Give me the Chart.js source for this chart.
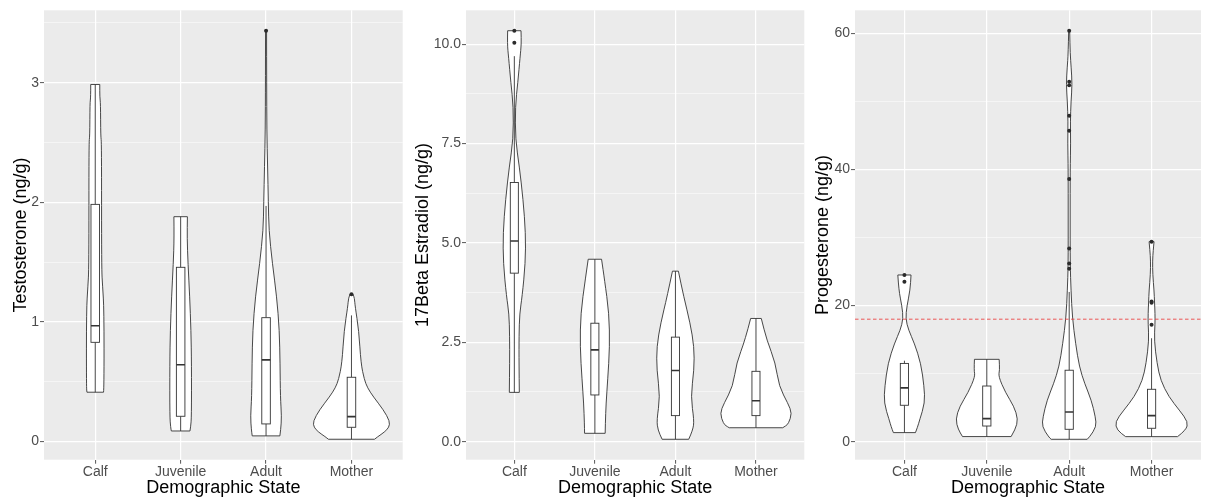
<!DOCTYPE html>
<html>
<head>
<meta charset="utf-8">
<script src="https://cdn.jsdelivr.net/npm/chart.js@4.4.1/dist/chart.umd.min.js"></script>
<style>
  body { margin: 0; background: #fff; }
  .panel { position: absolute; top: 0; }
</style>
</head>
<body>
<canvas id="testo" class="panel" width="410" height="500" style="left:0"></canvas>
<canvas id="estradiol" class="panel" width="400" height="500" style="left:410px"></canvas>
<canvas id="progest" class="panel" width="395" height="500" style="left:810px"></canvas>
<script>
const categories = ["Calf", "Juvenile", "Adult", "Mother"];

// violin profiles: [value, half width in category units], top to bottom
const testoViolins = [
  [[2.985, 0.053], [2.88, 0.053], [2.83, 0.062], [2.55, 0.064], [2.5, 0.074], [1.45, 0.074], [1.3, 0.086], [1.1, 0.103], [0.45, 0.103], [0.413, 0.097]],
  [[1.88, 0.079], [1.7, 0.076], [1.49, 0.086], [1.21, 0.106], [0.93, 0.121], [0.65, 0.127], [0.21, 0.127], [0.12, 0.117], [0.089, 0.109]],
  [[3.434, 0.006], [3.0, 0.007], [2.6, 0.009], [2.3, 0.018], [2.0, 0.027], [1.77, 0.033], [1.49, 0.074], [1.21, 0.125], [0.93, 0.156], [0.65, 0.164], [0.37, 0.168], [0.21, 0.182], [0.1, 0.172], [0.048, 0.162]],
  [[1.231, 0.018], [1.2, 0.035], [1.13, 0.043], [0.93, 0.086], [0.654, 0.111], [0.52, 0.15], [0.45, 0.188], [0.377, 0.254], [0.265, 0.375], [0.17, 0.449], [0.12, 0.44], [0.08, 0.387], [0.04, 0.305], [0.02, 0.27]],
];
// [lower whisker, Q1, median, Q3, upper whisker]
const testoBoxes = [
  [0.413, 0.83, 0.969, 1.983, 2.985],
  [0.089, 0.212, 0.643, 1.457, 1.88],
  [0.048, 0.148, 0.683, 1.036, 1.97],
  [0.02, 0.12, 0.209, 0.538, 1.055],
];
const testoOutliers = [["Adult", 3.434], ["Mother", 1.231]];
const testoTicks = [0, 1, 2, 3];
const testoMinorTicks = [0.5, 1.5, 2.5, 3.5];
const testoTickLabels = ["0", "1", "2", "3"];

const estradiolViolins = [
  [[10.34, 0.083], [10.0, 0.087], [9.69, 0.072], [9.03, 0.043], [8.44, 0.012], [7.6, 0.014], [6.93, 0.062], [6.09, 0.109], [5.25, 0.14], [4.49, 0.137], [3.65, 0.097], [3.23, 0.066], [2.65, 0.058], [1.98, 0.058], [1.24, 0.062]],
  [[4.59, 0.083], [4.07, 0.12], [3.23, 0.176], [2.39, 0.184], [1.55, 0.159], [0.96, 0.139], [0.46, 0.13], [0.21, 0.128]],
  [[4.29, 0.037], [3.65, 0.103], [2.98, 0.183], [2.39, 0.232], [1.81, 0.232], [1.13, 0.19], [0.54, 0.232], [0.29, 0.217], [0.06, 0.165]],
  [[3.1, 0.066], [2.56, 0.134], [1.98, 0.242], [1.39, 0.286], [0.96, 0.398], [0.71, 0.447], [0.46, 0.404], [0.4, 0.373], [0.35, 0.332]],
];
const estradiolBoxes = [
  [1.24, 4.24, 5.05, 6.52, 9.7],
  [0.21, 1.175, 2.31, 2.98, 4.59],
  [0.06, 0.655, 1.79, 2.63, 4.29],
  [0.35, 0.655, 1.03, 1.77, 3.1],
];
const estradiolOutliers = [["Calf", 10.34], ["Calf", 10.04]];
const estradiolTicks = [0, 2.5, 5, 7.5, 10];
const estradiolMinorTicks = [1.25, 3.75, 6.25, 8.75];
const estradiolTickLabels = ["0.0", "2.5", "5.0", "7.5", "10.0"];

const progViolins = [
  [[24.5, 0.08], [22.3, 0.069], [19.9, 0.03], [18.1, 0.014], [16.4, 0.05], [14.5, 0.12], [11.5, 0.2], [8.1, 0.239], [5.7, 0.248], [3.2, 0.185], [2.2, 0.161], [1.33, 0.134]],
  [[12.1, 0.15], [10.5, 0.156], [9.6, 0.141], [7.2, 0.227], [5.2, 0.329], [3.3, 0.379], [1.8, 0.347], [0.75, 0.295]],
  [[60.4, 0.006], [57, 0.012], [55, 0.024], [52.5, 0.036], [50, 0.022], [47, 0.014], [44, 0.018], [40, 0.012], [33, 0.012], [26, 0.012], [22.3, 0.022], [18.3, 0.038], [14.4, 0.078], [11.0, 0.123], [8.5, 0.189], [6.1, 0.269], [3.6, 0.319], [2.2, 0.329], [0.7, 0.249], [0.35, 0.219]],
  [[29.4, 0.03], [28.1, 0.02], [26.6, 0.012], [24.6, 0.014], [22.2, 0.03], [20.5, 0.036], [18.8, 0.042], [17.3, 0.042], [14.9, 0.032], [11.5, 0.066], [9.0, 0.11], [6.6, 0.209], [4.6, 0.339], [2.9, 0.443], [1.7, 0.419], [0.74, 0.315]],
];
const progBoxes = [
  [1.33, 5.35, 7.9, 11.5, 11.9],
  [0.75, 2.3, 3.38, 8.18, 12.1],
  [0.35, 1.82, 4.36, 10.5, 22.0],
  [0.74, 1.97, 3.83, 7.7, 15.2],
];
const progOutliers = [
  ["Calf", 24.5], ["Calf", 23.5],
  ["Adult", 60.4], ["Adult", 52.9], ["Adult", 52.4], ["Adult", 47.9], ["Adult", 45.7], ["Adult", 38.6], ["Adult", 28.4], ["Adult", 26.2], ["Adult", 25.4],
  ["Mother", 29.4], ["Mother", 20.6], ["Mother", 20.4], ["Mother", 17.2],
];
const progThreshold = 18;
const progTicks = [0, 20, 40, 60];
const progMinorTicks = [10, 30, 50];
const progTickLabels = ["0", "20", "40", "60"];

const BOX_HALF = 0.05;
const INK = "#333333";

Chart.defaults.font.family = "'Liberation Sans', Arial, sans-serif";

const panelBackground = {
  id: "panelBackground",
  beforeDraw(chart) {
    const { ctx, chartArea: a } = chart;
    ctx.save();
    ctx.fillStyle = "#ebebeb";
    ctx.fillRect(a.left, a.top, a.width, a.height);
    ctx.restore();
  },
};

// one side of a violin, smoothed through the midpoints
function traceSide(ctx, pts, first) {
  if (first) ctx.moveTo(pts[0][0], pts[0][1]);
  else ctx.lineTo(pts[0][0], pts[0][1]);
  for (let k = 1; k < pts.length - 1; k++) {
    const mx = (pts[k][0] + pts[k + 1][0]) / 2;
    const my = (pts[k][1] + pts[k + 1][1]) / 2;
    ctx.quadraticCurveTo(pts[k][0], pts[k][1], mx, my);
  }
  const last = pts[pts.length - 1];
  ctx.lineTo(last[0], last[1]);
}

function violinLayer(profiles, boxes) {
  return {
    id: "violinLayer",
    beforeDatasetsDraw(chart) {
      const { ctx, chartArea: a, scales } = chart;
      const x = scales.x;
      const y = scales.y;
      ctx.save();
      ctx.beginPath();
      ctx.rect(a.left, a.top, a.width, a.height);
      ctx.clip();

      profiles.forEach((profile, i) => {
        const c = i + 1;
        const left = profile.map(([v, w]) => [x.getPixelForValue(c - w), y.getPixelForValue(v)]);
        const right = profile.map(([v, w]) => [x.getPixelForValue(c + w), y.getPixelForValue(v)]).reverse();
        ctx.beginPath();
        traceSide(ctx, left, true);
        traceSide(ctx, right, false);
        ctx.closePath();
        ctx.fillStyle = "#ffffff";
        ctx.fill();
        ctx.strokeStyle = INK;
        ctx.lineWidth = 0.9;
        ctx.stroke();
      });

      boxes.forEach(([lo, q1, med, q3, hi], i) => {
        const c = i + 1;
        const xl = x.getPixelForValue(c - BOX_HALF);
        const xr = x.getPixelForValue(c + BOX_HALF);
        const xc = x.getPixelForValue(c);
        const yq1 = y.getPixelForValue(q1);
        const yq3 = y.getPixelForValue(q3);
        ctx.strokeStyle = INK;
        ctx.lineWidth = 0.9;
        ctx.beginPath();
        ctx.moveTo(xc, y.getPixelForValue(hi));
        ctx.lineTo(xc, yq3);
        ctx.moveTo(xc, yq1);
        ctx.lineTo(xc, y.getPixelForValue(lo));
        ctx.stroke();
        ctx.fillStyle = "#ffffff";
        ctx.fillRect(xl, yq3, xr - xl, yq1 - yq3);
        ctx.strokeRect(xl, yq3, xr - xl, yq1 - yq3);
        ctx.lineWidth = 1.6;
        ctx.beginPath();
        ctx.moveTo(xl, y.getPixelForValue(med));
        ctx.lineTo(xr, y.getPixelForValue(med));
        ctx.stroke();
      });
      ctx.restore();
    },
  };
}

function makePanel(canvasId, p) {
  const minorSet = new Set(p.minorTicks);
  const datasets = [
    {
      data: p.outliers.map(([cat, v]) => ({ x: categories.indexOf(cat) + 1, y: v })),
      pointRadius: 2,
      pointBackgroundColor: "#2b2b2b",
      pointBorderWidth: 0,
    },
  ];
  if (p.threshold !== undefined) {
    datasets.push({
      data: [{ x: 0.4, y: p.threshold }, { x: 4.6, y: p.threshold }],
      showLine: true,
      borderColor: "rgba(235, 60, 60, 0.85)",
      borderWidth: 1,
      borderDash: [3.5, 2.5],
      pointRadius: 0,
    });
  }

  return new Chart(document.getElementById(canvasId), {
    type: "scatter",
    data: { datasets },
    options: {
      responsive: false,
      animation: false,
      devicePixelRatio: 1,
      layout: { padding: { left: 0, right: p.padRight, top: 10.3, bottom: 0 } },
      plugins: { legend: { display: false }, tooltip: { enabled: false } },
      scales: {
        x: {
          type: "linear",
          min: 0.4,
          max: 4.6,
          afterBuildTicks: (s) => {
            s.ticks = categories.map((c, i) => ({ value: i + 1 }));
          },
          afterFit: (s) => {
            s.height = 40.3;
          },
          ticks: {
            callback: (v) => categories[v - 1],
            color: "#4d4d4d",
            font: { size: 14 },
            padding: 0,
            maxRotation: 0,
            autoSkip: false,
          },
          grid: { color: "#ffffff", lineWidth: 1.2, tickLength: 4, tickColor: "#555555", tickWidth: 1 },
          border: { display: false },
          title: {
            display: true,
            text: "Demographic State",
            color: "#000000",
            font: { size: 18 },
            padding: { top: 0, bottom: 1 },
          },
        },
        y: {
          type: "linear",
          min: p.yMin,
          max: p.yMax,
          afterBuildTicks: (s) => {
            s.ticks = [...p.ticks, ...p.minorTicks].sort((a, b) => a - b).map((v) => ({ value: v }));
          },
          afterFit: (s) => {
            s.width = p.axisWidth;
          },
          ticks: {
            callback: (v) => (minorSet.has(v) ? "" : p.tickLabels[p.ticks.indexOf(v)]),
            color: "#4d4d4d",
            font: { size: 14 },
            padding: 1,
            autoSkip: false,
          },
          grid: {
            color: (c) => (minorSet.has(c.tick.value) ? "rgba(255,255,255,0.85)" : "#ffffff"),
            lineWidth: (c) => (minorSet.has(c.tick.value) ? 0.6 : 1.2),
            tickColor: (c) => (minorSet.has(c.tick.value) ? "rgba(0,0,0,0)" : "#555555"),
            tickLength: 4,
            tickWidth: 1,
          },
          border: { display: false },
          title: {
            display: true,
            text: p.title,
            color: "#000000",
            font: { size: 18 },
            padding: { top: p.titlePad, bottom: 0 },
          },
        },
      },
    },
    plugins: [panelBackground, violinLayer(p.violins, p.boxes)],
  });
}

makePanel("testo", {
  title: "Testosterone (ng/g)",
  violins: testoViolins,
  boxes: testoBoxes,
  outliers: testoOutliers,
  ticks: testoTicks,
  minorTicks: testoMinorTicks,
  tickLabels: testoTickLabels,
  yMin: -0.151,
  yMax: 3.605,
  axisWidth: 44,
  padRight: 7.3,
  titlePad: 10,
});

makePanel("estradiol", {
  title: "17Beta Estradiol (ng/g)",
  violins: estradiolViolins,
  boxes: estradiolBoxes,
  outliers: estradiolOutliers,
  ticks: estradiolTicks,
  minorTicks: estradiolMinorTicks,
  tickLabels: estradiolTickLabels,
  yMin: -0.454,
  yMax: 10.854,
  axisWidth: 56,
  padRight: 5.7,
  titlePad: 2.5,
});

makePanel("progest", {
  title: "Progesterone (ng/g)",
  violins: progViolins,
  boxes: progBoxes,
  outliers: progOutliers,
  threshold: progThreshold,
  ticks: progTicks,
  minorTicks: progMinorTicks,
  tickLabels: progTickLabels,
  yMin: -2.65,
  yMax: 63.4,
  axisWidth: 45,
  padRight: 0,
  titlePad: 2.5,
});
</script>
</body>
</html>
